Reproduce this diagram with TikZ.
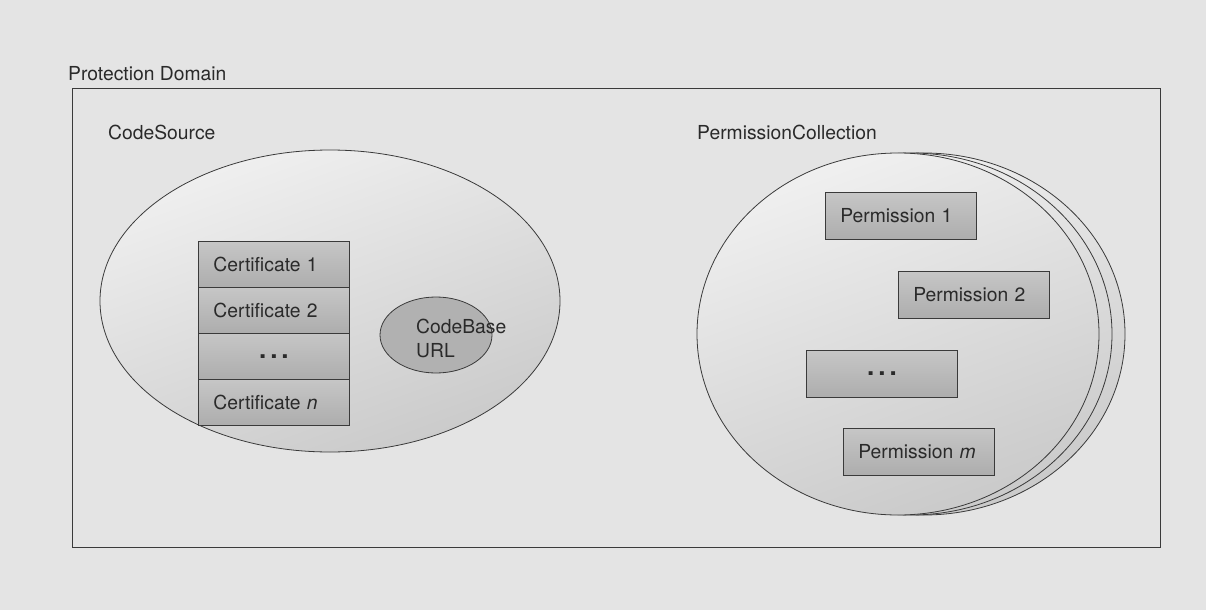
\documentclass[tikz,border=0pt]{standalone}
\usepackage{fontspec}
\setmainfont{TeX Gyre Heros}
\usetikzlibrary{shapes.geometric}
\definecolor{bgc}{HTML}{E4E4E4}
\definecolor{linec}{HTML}{3A3A3A}
\definecolor{ellTop}{HTML}{F0F0F0}
\definecolor{ellBot}{HTML}{CACACA}
\definecolor{boxTop}{HTML}{C6C6C6}
\definecolor{boxBot}{HTML}{ADADAD}
\definecolor{txt}{HTML}{2A2A2A}
\newcommand{\threedots}{{\fontsize{26}{26}\selectfont\textbf{.\kern4pt.\kern4pt.}}}
\tikzset{
  lbl/.style={font=\fontsize{19.3}{21}\selectfont, text=txt, inner sep=0pt},
  bigell/.style={ellipse, draw=linec, line width=0.8pt, inner sep=0pt, shading=axis, top color=ellTop, bottom color=ellBot, shading angle=20},
  certbox/.style={rectangle, draw=linec, line width=0.8pt, minimum width=151pt, minimum height=46pt, anchor=north west, top color=boxTop, bottom color=boxBot, font=\fontsize{19.3}{21}\selectfont, text=txt, text width=121pt, align=left, inner xsep=15pt, inner ysep=0pt},
  permbox/.style={certbox, minimum width=151pt, minimum height=47pt},
  dotsbox/.style={certbox, text width=, align=center},
}
\begin{document}
\begin{tikzpicture}[x=1pt,y=-1pt]
\fill[bgc] (0,0) rectangle (1206,610);
\useasboundingbox (0,0) rectangle (1206,610);
% protection domain
\node[draw=linec, line width=0.8pt, rectangle, minimum width=1088pt, minimum height=459pt, anchor=north west, inner sep=0pt] (pd) at (72,88) {};
\node[lbl, anchor=base west] (pdl) at (68,80) {Protection Domain};
% code source
\node[lbl, anchor=base west] (csl) at (108,139) {CodeSource};
\node[bigell, minimum width=460pt, minimum height=302pt] (cs) at (330,301) {};
\node[certbox] (c1) at (198,241) {Certificate 1};
\node[certbox] (c2) at (198,287) {Certificate 2};
\node[dotsbox] (c3) at (198,333) {\threedots};
\node[certbox] (c4) at (198,379) {Certificate \textit{n}};
\node[ellipse, draw=linec, line width=0.8pt, fill=boxBot!95!white, minimum width=112pt, minimum height=76pt, inner sep=0pt] (cb) at (436,335) {};
\node[lbl, align=left, anchor=west, font=\fontsize{19.3}{24}\selectfont] (cbt) at (416,338) {CodeBase\\URL};
% permission collection
\node[lbl, anchor=base west] (pcl) at (697,139) {PermissionCollection};
\node[bigell, minimum width=402pt, minimum height=362pt] (pc3) at (924,334) {};
\node[bigell, minimum width=402pt, minimum height=362pt] (pc2) at (911,334) {};
\node[bigell, minimum width=402pt, minimum height=362pt] (pc1) at (898,334) {};
\node[permbox] (p1) at (825,192) {Permission 1};
\node[permbox] (p2) at (898,271) {Permission 2};
\node[permbox, text width=, align=center] (p3) at (806,350) {\threedots};
\node[permbox] (pm) at (843,428) {Permission \textit{m}};
\end{tikzpicture}
\end{document}
